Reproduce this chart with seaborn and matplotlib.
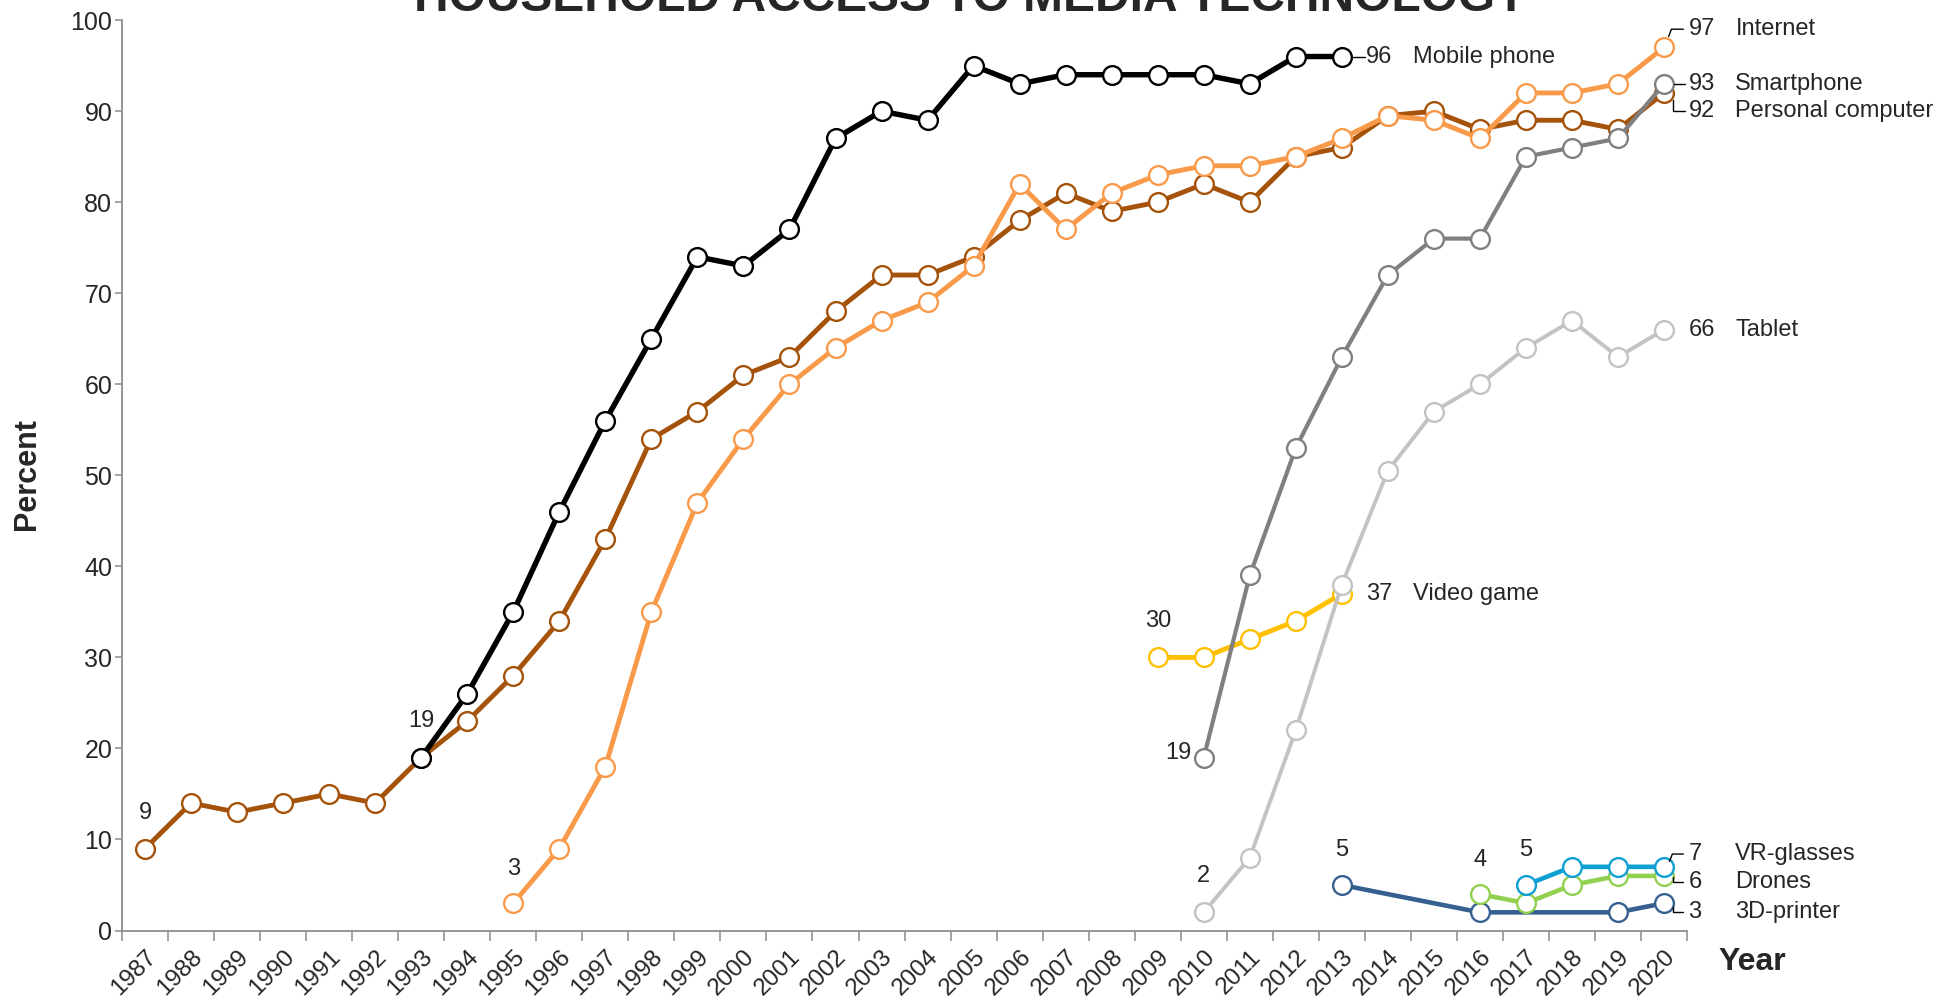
import matplotlib
matplotlib.use("Agg")
import matplotlib.pyplot as plt
import numpy as np
import pandas as pd
import seaborn as sns

# ---- data -------------------------------------------------------------
years = list(range(1987, 2021))

pc_years = list(range(1987, 2021))
pc_vals = [9, 14, 13, 14, 15, 14, 19, 23, 28, 34, 43, 54, 57, 61, 63, 68, 72, 72,
           74, 78, 81, 79, 80, 82, 80, 85, 86, 89.5, 90, 88, 89, 89, 88, 92]

mobile_years = list(range(1993, 2014))
mobile_vals = [19, 26, 35, 46, 56, 65, 74, 73, 77, 87, 90, 89, 95, 93, 94, 94,
               94, 94, 93, 96, 96]

internet_years = list(range(1995, 2021))
internet_vals = [3, 9, 18, 35, 47, 54, 60, 64, 67, 69, 73, 82, 77, 81, 83, 84,
                 84, 85, 87, 89.5, 89, 87, 92, 92, 93, 97]

video_years = [2009, 2010, 2011, 2012, 2013]
video_vals = [30, 30, 32, 34, 37]

smart_years = list(range(2010, 2021))
smart_vals = [19, 39, 53, 63, 72, 76, 76, 85, 86, 87, 93]

tablet_years = list(range(2010, 2021))
tablet_vals = [2, 8, 22, 38, 50.5, 57, 60, 64, 67, 63, 66]

printer_years = [2013, 2016, 2019, 2020]
printer_vals = [5, 2, 2, 3]

drone_years = [2016, 2017, 2018, 2019, 2020]
drone_vals = [4, 3, 5, 6, 6]

vr_years = [2017, 2018, 2019, 2020]
vr_vals = [5, 7, 7, 7]

series = [
    # name, years, values, colour, line width
    ("Personal computer", pc_years, pc_vals, "#A5520B", 3.5),
    ("Mobile phone", mobile_years, mobile_vals, "#000000", 3.9),
    ("Internet", internet_years, internet_vals, "#F99A4A", 3.5),
    ("Video game", video_years, video_vals, "#FFC000", 3.5),
    ("Smartphone", smart_years, smart_vals, "#808080", 3.0),
    ("Tablet", tablet_years, tablet_vals, "#C3C3C3", 2.8),
    ("3D-printer", printer_years, printer_vals, "#35608F", 3.3),
    ("Drones", drone_years, drone_vals, "#92D050", 3.3),
    ("VR-glasses", vr_years, vr_vals, "#0EA0D2", 3.3),
]

# ---- style ------------------------------------------------------------
sns.set_theme(style="white")
plt.rcParams["font.family"] = ["Liberation Sans", "DejaVu Sans"]
FS = 17

fig = plt.figure(figsize=(19.56, 10.05), dpi=100)
ax = fig.add_axes([0.0624, 0.0741, 0.8001, 0.9059])

for name, xs, ys, col, lw in series:
    df = pd.DataFrame({"year": xs, "value": ys})
    sns.lineplot(data=df, x="year", y="value", ax=ax, color=col, linewidth=lw,
                 marker="o", markersize=13.5, markerfacecolor="white",
                 markeredgecolor=col, markeredgewidth=1.7, sort=False,
                 estimator=None, legend=False)

ax.set_xlim(1986.5, 2020.5)
ax.set_ylim(0, 100)
ax.set_yticks(np.arange(0, 101, 10))
ax.set_xticks(years)
ax.set_xticklabels([str(y) for y in years], rotation=45, ha="right",
                   va="top", rotation_mode="anchor", fontsize=17.5)
ax.set_xticks(np.arange(1986.5, 2021, 1), minor=True)
ax.tick_params(axis="x", which="major", length=0, pad=11)
ax.tick_params(axis="x", which="minor", length=7, width=1.1, color="#8C8C8C",
               direction="out", bottom=True)
ax.tick_params(axis="y", length=5, width=1.1, color="#8C8C8C", direction="out",
               left=True, labelsize=18, pad=2)
for s in ["top", "right"]:
    ax.spines[s].set_visible(False)
for s in ["left", "bottom"]:
    ax.spines[s].set_color("#8C8C8C")
    ax.spines[s].set_linewidth(1.3)
ax.set_xlabel("")
ax.set_ylabel("")
ax.grid(False)

# ---- end labels --------------------------------------------------------
end_labels = [
    ("96", "Mobile phone", 2013, 96),
    ("97", "Internet", 2020, 99),
    ("93", "Smartphone", 2020, 93),
    ("92", "Personal computer", 2020, 90),
    ("66", "Tablet", 2020, 66),
    ("37", "Video game", 2013, 37),
    ("7", "VR-glasses", 2020, 8.4),
    ("6", "Drones", 2020, 5.3),
    ("3", "3D-printer", 2020, 2),
]
for val, name, x, y in end_labels:
    ax.text(x + 0.53, y, val, fontsize=FS, va="center", ha="left", clip_on=False)
    ax.text(x + 1.55, y, name, fontsize=FS, va="center", ha="left", clip_on=False)

leader_kw = dict(color="black", linewidth=1.0, clip_on=False)
ax.plot([2013.24, 2013.5], [96, 96], **leader_kw)
ax.plot([2020.1, 2020.16, 2020.42], [98.2, 99, 99], **leader_kw)
ax.plot([2020.22, 2020.45], [93, 93], **leader_kw)
ax.plot([2020.2, 2020.2, 2020.45], [91.2, 90, 90], **leader_kw)
ax.plot([2020.12, 2020.18, 2020.42], [7.6, 8.4, 8.4], **leader_kw)
ax.plot([2020.2, 2020.2, 2020.42], [5.9, 5.3, 5.3], **leader_kw)
ax.plot([2020.2, 2020.2, 2020.42], [2.6, 2, 2], **leader_kw)

# ---- start labels ------------------------------------------------------
start_labels = [
    ("9", 1987, 12.9, "center"),
    ("19", 1993, 23, "center"),
    ("3", 1995, 6.8, "center"),
    ("30", 2009, 34, "center"),
    ("19", 2009.73, 19.5, "right"),
    ("2", 2010, 6, "center"),
    ("5", 2013, 8.8, "center"),
    ("4", 2016, 7.7, "center"),
    ("5", 2017, 8.8, "center"),
]
for txt, x, y, ha in start_labels:
    ax.text(x, y, txt, fontsize=FS, va="center", ha=ha)

# ---- titles ------------------------------------------------------------
fig.text(0.496, 1 - 11 / 1005, "HOUSEHOLD ACCESS TO MEDIA TECHNOLOGY",
         ha="center", va="baseline", fontsize=34.5, fontweight="bold")
fig.text(0.014, 0.528, "Percent", rotation=90, ha="center", va="center",
         fontsize=22, fontweight="bold")
fig.text(0.896, 0.043, "Year", ha="center", va="center", fontsize=23,
         fontweight="bold")

fig.savefig("out.png", dpi=100)
